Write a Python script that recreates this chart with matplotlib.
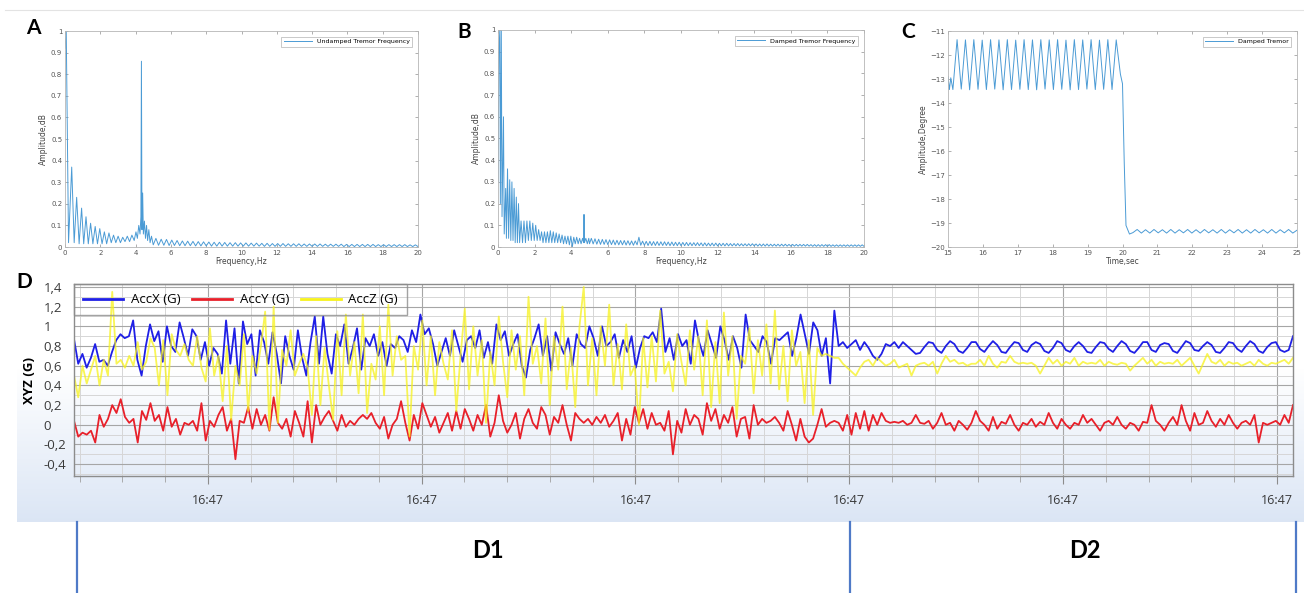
import numpy as np
import matplotlib
matplotlib.use('Agg')
import matplotlib.pyplot as plt
from matplotlib.lines import Line2D
from matplotlib.ticker import MultipleLocator, FormatStrFormatter

W, H = 1304, 593

# ---------------- panel A : undamped tremor spectrum ----------------
A_low_f = [0.0, 0.07, 0.2, 0.38, 0.52, 0.66, 0.8, 0.94, 1.06, 1.19, 1.32, 1.45, 1.58, 1.71,
           1.84, 1.97, 2.1, 2.23, 2.36, 2.49, 2.62, 2.75, 2.88, 3.01, 3.14, 3.27, 3.4, 3.53,
           3.66, 3.79, 3.92, 4.02, 4.1, 4.18, 4.25, 4.3, 4.33, 4.36, 4.4, 4.44, 4.5, 4.56,
           4.62, 4.68, 4.75, 4.82, 4.9]
A_low_amp = [0.92, 1.0, 0.02, 0.37, 0.02, 0.23, 0.015, 0.18, 0.015, 0.14, 0.015, 0.11, 0.015, 0.095,
             0.015, 0.085, 0.015, 0.07, 0.015, 0.065, 0.02, 0.055, 0.02, 0.05, 0.02, 0.045, 0.025, 0.05,
             0.025, 0.055, 0.03, 0.07, 0.04, 0.1, 0.06, 0.14, 0.86, 0.08, 0.25, 0.06, 0.12, 0.04,
             0.1, 0.03, 0.08, 0.02, 0.05]
A_tail_peaks = [0.04, 0.036, 0.035, 0.032, 0.03, 0.028, 0.027, 0.026, 0.025, 0.024,
                0.023, 0.022, 0.022, 0.021, 0.02, 0.02, 0.019, 0.019, 0.018, 0.018,
                0.017, 0.017, 0.016, 0.016, 0.016, 0.015, 0.015, 0.015, 0.014, 0.014,
                0.014, 0.014, 0.013, 0.013, 0.013, 0.013, 0.012, 0.012, 0.012, 0.012,
                0.012, 0.012, 0.011, 0.011, 0.011, 0.011, 0.011, 0.011, 0.01, 0.01]
A_tail_troughs = [0.01, 0.008, 0.008, 0.007, 0.007, 0.006, 0.006, 0.006, 0.005, 0.005, 0.005,
                  0.004, 0.004, 0.004, 0.004, 0.004, 0.004, 0.004, 0.004, 0.004, 0.004,
                  0.003, 0.003, 0.003, 0.003, 0.003, 0.003, 0.003, 0.003, 0.003, 0.003,
                  0.003, 0.003, 0.003, 0.003, 0.003,
                  0.002, 0.002, 0.002, 0.002, 0.002, 0.002, 0.002, 0.002, 0.002, 0.002,
                  0.002, 0.002, 0.002, 0.002, 0.002]

# ---------------- panel B : damped tremor spectrum ----------------
B_low_f = [0.0, 0.05, 0.1, 0.13, 0.18, 0.22, 0.3, 0.34, 0.42, 0.46, 0.52, 0.58, 0.64, 0.7,
           0.76, 0.82, 0.88, 0.94, 1.0, 1.06, 1.12, 1.18, 1.26, 1.34, 1.42, 1.5, 1.58, 1.66,
           1.74, 1.82, 1.9, 1.98, 2.06, 2.14, 2.22, 2.3, 2.38, 2.46, 2.54, 2.62, 2.7, 2.78,
           2.86, 2.94, 3.02, 3.1, 3.18, 3.26, 3.34, 3.42, 3.5, 3.58, 3.66, 3.74, 3.82, 3.9,
           3.98, 4.06, 4.14, 4.22, 4.3, 4.38, 4.46, 4.54, 4.62, 4.68, 4.7, 4.72, 4.8, 4.88, 4.96]
B_low_amp = [0.3, 0.9, 1.0, 0.2, 1.0, 0.14, 0.6, 0.06, 0.27, 0.04, 0.36, 0.04, 0.31, 0.03,
             0.3, 0.03, 0.27, 0.02, 0.23, 0.02, 0.2, 0.02, 0.12, 0.02, 0.12, 0.02, 0.12, 0.03,
             0.12, 0.03, 0.11, 0.03, 0.1, 0.03, 0.08, 0.03, 0.07, 0.02, 0.07, 0.02, 0.07, 0.02,
             0.075, 0.02, 0.07, 0.02, 0.065, 0.02, 0.06, 0.02, 0.055, 0.015, 0.05, 0.015, 0.05, 0.01,
             0.05, 0.0, 0.045, 0.015, 0.045, 0.015, 0.04, 0.015, 0.04, 0.02, 0.15, 0.02, 0.04, 0.015, 0.04]
B_tail_peaks = [0.04, 0.038, 0.036, 0.035, 0.034, 0.033, 0.032, 0.031, 0.03, 0.03, 0.029, 0.028, 0.028, 0.045, 0.027,
                0.026, 0.026, 0.025, 0.025, 0.024, 0.024, 0.023, 0.023, 0.022, 0.022, 0.021, 0.021, 0.02, 0.02, 0.02,
                0.019, 0.019, 0.018, 0.018, 0.018, 0.017, 0.017, 0.017, 0.016, 0.016, 0.016, 0.015, 0.015, 0.015, 0.015,
                0.014, 0.014, 0.014, 0.014, 0.013, 0.013, 0.013, 0.013, 0.013, 0.012, 0.012, 0.012, 0.012, 0.012, 0.012,
                0.011, 0.011, 0.011, 0.011, 0.011, 0.011, 0.01, 0.01, 0.01, 0.01, 0.01, 0.01, 0.01, 0.01, 0.01]
B_tail_troughs = [0.015, 0.014, 0.013, 0.012, 0.012, 0.011, 0.011, 0.01, 0.01, 0.01, 0.009, 0.009, 0.008, 0.01, 0.008, 0.008,
                  0.007, 0.007, 0.007, 0.007, 0.007, 0.007, 0.006, 0.006, 0.006, 0.006, 0.006, 0.006, 0.006, 0.006, 0.006,
                  0.005, 0.005, 0.005, 0.005, 0.005, 0.005, 0.005, 0.005, 0.005, 0.005, 0.005, 0.005, 0.005, 0.005, 0.005,
                  0.004, 0.004, 0.004, 0.004, 0.004, 0.004, 0.004, 0.004, 0.004, 0.004, 0.004, 0.004, 0.004, 0.004, 0.004,
                  0.003, 0.003, 0.003, 0.003, 0.003, 0.003, 0.003, 0.003, 0.003, 0.003, 0.003, 0.003, 0.003, 0.003, 0.003]

# ---------------- panel C : damped tremor in time ----------------
C_start_t = [15.0, 15.04, 15.08]
C_start_v = [-12.9, -13.44, -12.95]
C_osc_v = [-13.44, -11.36, -13.42, -11.37, -13.45, -11.36, -13.43, -11.38, -13.44, -11.36,
           -13.42, -11.37, -13.45, -11.36, -13.44, -11.38, -13.43, -11.36, -13.44, -11.37,
           -13.45, -11.36, -13.42, -11.37, -13.44, -11.36, -13.43, -11.38, -13.45, -11.36,
           -13.44, -11.37, -13.42, -11.36, -13.44, -11.38, -13.43, -11.36, -13.44, -11.37,
           -12.8]
C_drop_t = [20.0, 20.05, 20.1, 20.2, 20.3]
C_drop_v = [-13.2, -16.5, -19.1, -19.46, -19.4]
C_ripple_v = [-19.27, -19.42, -19.28, -19.42, -19.27, -19.41, -19.28, -19.42, -19.27, -19.42,
              -19.28, -19.41, -19.27, -19.42, -19.28, -19.42, -19.27, -19.41, -19.28, -19.42,
              -19.27, -19.42, -19.28, -19.41, -19.27, -19.42, -19.28, -19.42, -19.27, -19.41,
              -19.28, -19.42, -19.27, -19.42, -19.28, -19.41, -19.27, -19.42, -19.3]

# ---------------- panel D : accelerometer, D1 = tremor, D2 = damped ----------------
accx_d1 = [0.87, 0.62, 0.72, 0.58, 0.68, 0.82, 0.64, 0.66, 0.6, 0.74,
           0.86, 0.92, 0.88, 0.9, 1.06, 0.66, 0.5, 0.8, 1.02, 0.85,
           0.95, 0.64, 1.0, 0.8, 0.74, 1.04, 0.88, 0.7, 0.97, 0.9,
           0.66, 0.84, 0.6, 0.78, 0.72, 0.52, 1.06, 0.62, 0.98, 0.42,
           1.05, 0.82, 0.92, 0.5, 0.96, 0.84, 0.62, 0.94, 0.72, 0.42,
           0.9, 0.7, 0.56, 0.96, 0.68, 0.5, 0.84, 1.1, 0.62, 1.1,
           0.72, 0.52, 0.92, 0.8, 1.02, 0.62, 0.78, 0.98, 0.56, 0.88,
           0.8, 0.92, 0.7, 0.84, 0.6, 0.82, 0.78, 0.9, 0.86, 0.74,
           0.96, 0.84, 1.12, 0.92, 0.98, 0.82, 0.6, 0.74, 0.88, 0.7,
           0.96, 0.8, 0.64, 0.86, 0.9, 0.78, 0.96, 0.68, 0.84, 0.62,
           1.02, 0.86, 0.95, 0.7, 0.82, 0.92, 0.6, 0.48, 0.76, 0.88,
           1.02, 0.7, 0.9, 0.55, 0.94, 0.82, 0.72, 0.88, 0.6, 0.92,
           0.82, 0.78, 1.0, 0.88, 0.7, 1.0, 0.8, 0.84, 0.92, 0.68,
           0.86, 0.74, 0.9, 0.58, 0.78, 0.9, 0.88, 0.94, 0.84, 1.18,
           0.74, 0.88, 0.66, 0.92, 0.8, 0.86, 0.62, 1.06, 0.84, 0.7,
           0.96, 0.82, 0.68, 1.0, 0.86, 0.66, 0.9, 0.78, 0.58, 1.12,
           0.86, 0.8, 0.74, 0.9, 0.84, 0.62, 0.88, 0.86, 0.9, 0.94,
           0.7, 0.88, 1.12, 0.92, 0.72, 1.04, 0.96, 0.7, 0.88, 0.42,
           1.16]
accx_d2 = [0.8, 0.84, 0.78, 0.82, 0.86, 0.76, 0.84, 0.78, 0.7, 0.66,
           0.72, 0.82, 0.8, 0.84, 0.78, 0.84, 0.8, 0.76, 0.72,
           0.73, 0.79, 0.84, 0.83, 0.76, 0.73, 0.8, 0.85, 0.82, 0.75,
           0.73, 0.78, 0.84, 0.84, 0.77, 0.74, 0.8, 0.85, 0.81, 0.74,
           0.73, 0.79, 0.84, 0.83, 0.76, 0.74, 0.81, 0.84, 0.82, 0.75,
           0.73, 0.78, 0.85, 0.83, 0.76, 0.74, 0.8, 0.84, 0.8, 0.74,
           0.73, 0.79, 0.84, 0.83, 0.77, 0.74, 0.8, 0.85, 0.82, 0.75,
           0.73, 0.78, 0.84, 0.84, 0.76, 0.74, 0.81, 0.83, 0.82, 0.75,
           0.73, 0.79, 0.85, 0.83, 0.76, 0.75, 0.8, 0.84, 0.81, 0.74,
           0.73, 0.78, 0.84, 0.83, 0.77, 0.74, 0.8, 0.85, 0.82, 0.75,
           0.73, 0.79, 0.83, 0.84, 0.76, 0.74, 0.76, 0.9]
accy_d1 = [0.04, -0.12, -0.08, -0.1, -0.06, -0.18, 0.1, -0.02, 0.06, 0.2,
           0.12, 0.26, 0.08, 0.02, 0.06, -0.18, 0.14, 0.05, 0.22, 0.04,
           0.1, -0.06, 0.18, -0.02, 0.06, -0.1, 0.02, 0.0, 0.04, -0.06,
           0.22, -0.16, 0.04, -0.02, 0.1, 0.18, -0.06, 0.06, -0.35, 0.04,
           0.02, 0.18, -0.04, 0.16, 0.0, 0.1, -0.06, 0.28, 0.02, -0.04,
           0.06, -0.12, 0.14, 0.02, -0.12, 0.24, -0.18, 0.2, 0.0, 0.08,
           0.14, 0.04, -0.06, 0.1, -0.02, 0.04, 0.0, 0.06, 0.1, 0.06,
           0.12, 0.02, -0.04, 0.08, -0.14, 0.0, 0.06, 0.24, 0.02, -0.16,
           0.1, -0.04, 0.22, 0.1, -0.02, 0.08, -0.08, 0.02, 0.12, -0.06,
           0.14, -0.04, 0.16, 0.06, -0.06, 0.1, 0.0, 0.2, -0.12, 0.02,
           0.3, 0.04, -0.08, 0.0, 0.12, -0.14, 0.06, 0.16, 0.02, -0.04,
           0.18, 0.1, -0.1, 0.08, 0.02, 0.2, 0.0, -0.16, 0.12, 0.06,
           0.02, 0.06, 0.0, 0.08, 0.02, 0.1, -0.02, 0.04, 0.12, -0.16,
           0.06, -0.1, 0.18, 0.02, 0.16, -0.04, 0.12, 0.0, 0.02, -0.06,
           0.14, -0.3, 0.04, -0.08, 0.16, 0.0, 0.1, 0.06, -0.1, 0.22,
           0.04, 0.16, -0.04, 0.1, 0.02, 0.18, -0.12, 0.06, 0.08, -0.14,
           0.2, 0.0, 0.06, 0.02, 0.04, 0.08, 0.02, -0.06, 0.14, 0.0,
           -0.16, 0.06, -0.12, -0.18, -0.14, 0.0, 0.16, -0.02, 0.02, 0.04]
accy_d2 = [0.02, -0.06, 0.1, -0.1, 0.12, -0.04, 0.14, -0.06, 0.1, 0.0,
           0.12, 0.04, 0.02, 0.03, 0.02, 0.04, 0.0, 0.02, 0.1,
           0.02, 0.01, 0.04, -0.04, 0.02, 0.12, 0.0, 0.02, -0.06, 0.04,
           0.0, -0.05, 0.02, 0.14, 0.04, 0.0, -0.06, 0.08, -0.04, 0.03,
           0.01, 0.1, 0.0, -0.06, 0.02, 0.0, 0.06, -0.02, 0.03, 0.0,
           0.12, 0.02, -0.04, 0.06, 0.0, -0.04, 0.02, 0.0, 0.1, 0.02,
           0.06, 0.0, -0.06, 0.02, 0.04, 0.0, 0.08, 0.0, -0.04, 0.02,
           0.0, -0.06, 0.03, 0.02, 0.2, 0.04, 0.0, -0.06, 0.02, 0.08,
           0.0, 0.2, 0.04, -0.06, 0.12, 0.0, 0.02, 0.14, 0.04, -0.02,
           0.06, 0.0, 0.1, 0.02, -0.04, 0.02, 0.04, 0.0, 0.1, -0.18,
           0.02, 0.0, 0.02, 0.04, 0.0, 0.1, 0.02, 0.2]
accz_d1 = [0.5, 0.28, 0.6, 0.42, 0.56, 0.7, 0.4, 0.66, 0.5, 1.35,
           0.62, 0.66, 0.58, 0.7, 0.6, 0.84, 0.56, 0.64, 0.88, 0.78,
           0.4, 0.86, 0.3, 0.92, 0.76, 0.7, 0.82, 0.66, 0.6, 0.9,
           0.58, 0.44, 0.98, 0.5, 0.7, 0.24, 0.8, 0.05, 0.6, 0.4,
           0.92, 0.14, 0.7, 0.52, 0.8, 1.15, -0.05, 1.2, 0.02, 0.76,
           0.6, 0.96, 0.5, 0.62, 0.72, 0.58, 0.1, 0.9, 0.2, 0.78,
           0.4, 0.05, 0.95, 0.3, 1.12, 0.5, 0.84, 0.32, 1.12, 0.12,
           0.62, 0.46, 1.0, 0.3, 1.22, 0.5, 0.9, 0.66, 0.7, -0.12,
           0.8, 0.56, 1.06, 0.4, 0.9, 0.3, 0.84, 0.62, 0.46, 0.96,
           0.14, 0.7, 1.18, 0.36, 1.0, 0.5, 0.86, 0.02, 0.74, 0.4,
           1.1, 0.64, 0.28, 0.96, 0.56, 0.9, 0.3, 1.3, 0.62, 0.8,
           0.42, 1.08, 0.2, 0.9, 0.56, 1.2, 0.36, 0.78, 0.18, 1.0,
           1.4, 0.4, 0.88, 0.3, 1.0, 0.6, 1.22, 0.4, 0.82, 0.36,
           1.02, 0.5, 0.6, 0.0, 0.88, 0.38, 0.9, 0.44, 1.16, 0.52,
           0.64, 0.34, 0.92, 0.64, 0.4, 0.96, 0.56, 0.9, 0.3, 1.06,
           0.18, 0.84, 0.22, 1.14, 0.5, 0.9, 0.06, 0.7, 0.62, 0.98,
           0.32, 0.86, 0.5, 1.02, 0.42, 1.16, 0.36, 0.8, 0.24, 0.96,
           0.6, 0.74, 0.22, 0.86, 0.1, 0.78, 0.7, 0.72, 0.7, 0.68]
accz_d2 = [0.68, 0.62, 0.58, 0.54, 0.5, 0.58, 0.64, 0.66, 0.6, 0.68,
           0.64, 0.6, 0.62, 0.66, 0.58, 0.6, 0.62, 0.5, 0.6,
           0.62, 0.63, 0.6, 0.64, 0.52, 0.62, 0.7, 0.64, 0.66, 0.62,
           0.63, 0.6, 0.62, 0.62, 0.66, 0.6, 0.7, 0.62, 0.58, 0.64,
           0.63, 0.7, 0.64, 0.62, 0.63, 0.62, 0.63, 0.6, 0.52, 0.6,
           0.68, 0.62, 0.66, 0.6, 0.64, 0.62, 0.68, 0.6, 0.64, 0.62,
           0.63, 0.62, 0.66, 0.6, 0.64, 0.62, 0.61, 0.63, 0.62, 0.55,
           0.6, 0.64, 0.68, 0.62, 0.66, 0.6, 0.64, 0.62, 0.63, 0.62,
           0.66, 0.6, 0.64, 0.68, 0.6, 0.52, 0.62, 0.72, 0.64, 0.62,
           0.66, 0.6, 0.64, 0.62, 0.63, 0.6, 0.62, 0.64, 0.6, 0.66,
           0.62, 0.6, 0.63, 0.62, 0.64, 0.66, 0.62, 0.68]
d_ticklabels = ['-0,4', '-0,2', '0', '0,2', '0,4', '0,6', '0,8', '1', '1,2', '1,4']
d_xlabels = ['16:47'] * 6


def px_box(x0, y0, x1, y1):
    return [x0 / W, 1 - y1 / H, (x1 - x0) / W, (y1 - y0) / H]


def zigzag(start, stop, troughs, peaks):
    vals = np.empty(len(troughs) + len(peaks))
    vals[0::2] = troughs
    vals[1::2] = peaks
    return np.linspace(start, stop, len(vals)), vals


fig = plt.figure(figsize=(W / 100, H / 100), dpi=100)
fig.add_artist(Line2D([0.004, 1], [1 - 10 / H] * 2, color='#e3e3e3', lw=0.8))

line_c = '#4b9bd5'


def matlab_axes(rect):
    ax = fig.add_axes(rect)
    for s in ax.spines.values():
        s.set_color('#b5b5b5')
        s.set_linewidth(0.6)
    ax.tick_params(direction='in', top=True, right=True, length=2, width=0.5,
                   color='#909090', labelsize=5, labelcolor='#555555', pad=2)
    return ax


def small_legend(ax):
    leg = ax.legend(loc='upper right', fontsize=4.5, fancybox=False, edgecolor='#a0a0a0',
                    handlelength=4.5, borderaxespad=0.9, borderpad=0.4)
    leg.get_frame().set_linewidth(0.5)


# A
axA = matlab_axes(px_box(65, 31, 418, 247))
tf, ta = zigzag(5.0, 20.0, A_tail_troughs, A_tail_peaks)
axA.plot(np.concatenate([A_low_f, tf]), np.concatenate([A_low_amp, ta]),
         color=line_c, lw=0.7, label='Undamped Tremor Frequency')
axA.set_xlim(0, 20)
axA.set_ylim(0, 1)
axA.xaxis.set_major_locator(MultipleLocator(2))
axA.yaxis.set_major_locator(MultipleLocator(0.1))
axA.yaxis.set_major_formatter(FormatStrFormatter('%g'))
axA.set_xlabel('Frequency,Hz', fontsize=5.5, labelpad=1, color='#444444')
axA.set_ylabel('Amplitude,dB', fontsize=5.5, labelpad=2, color='#444444')
small_legend(axA)

# B
axB = matlab_axes(px_box(498, 30, 864, 247))
tf, ta = zigzag(5.0, 20.0, B_tail_troughs, B_tail_peaks)
axB.plot(np.concatenate([B_low_f, tf]), np.concatenate([B_low_amp, ta]),
         color=line_c, lw=0.7, label='Damped Tremor Frequency')
axB.set_xlim(0, 20)
axB.set_ylim(0, 1)
axB.xaxis.set_major_locator(MultipleLocator(2))
axB.yaxis.set_major_locator(MultipleLocator(0.1))
axB.yaxis.set_major_formatter(FormatStrFormatter('%g'))
axB.set_xlabel('Frequency,Hz', fontsize=5.5, labelpad=1, color='#444444')
axB.set_ylabel('Amplitude,dB', fontsize=5.5, labelpad=2, color='#444444')
small_legend(axB)

# C
axC = matlab_axes(px_box(948, 31, 1297, 247))
ct = np.concatenate([C_start_t, np.linspace(15.14, 19.94, len(C_osc_v)), C_drop_t,
                     np.linspace(20.42, 25.0, len(C_ripple_v))])
cv = np.concatenate([C_start_v, C_osc_v, C_drop_v, C_ripple_v])
axC.plot(ct, cv, color=line_c, lw=0.7, label='Damped Tremor')
axC.set_xlim(15, 25)
axC.set_ylim(-20, -11)
axC.xaxis.set_major_locator(MultipleLocator(1))
axC.yaxis.set_major_locator(MultipleLocator(1))
axC.set_xlabel('Time,sec', fontsize=5.5, labelpad=1, color='#444444')
axC.set_ylabel('Amplitude,Degree', fontsize=5.5, labelpad=2, color='#444444')
small_legend(axC)

# D background gradient
bg = fig.add_axes(px_box(17, 266, 1304, 522), zorder=-5)
fr = np.linspace(0, 1, 256)
t = np.clip((fr - 0.4) / 0.6, 0, 1)[:, None, None]
top = np.array([1.0, 1.0, 1.0])
bot = np.array([0.86, 0.90, 0.96])
bg.imshow(top * (1 - t) + bot * t, aspect='auto', extent=[0, 1, 0, 1])
bg.axis('off')

axD = fig.add_axes(px_box(74, 284, 1293, 476))
axD.set_facecolor('none')
x1 = -0.626
x_split = 2.93
x2 = 5.075


def seg_x(a, b):
    return np.concatenate([np.linspace(x1, x_split, len(a)), np.linspace(x_split + 0.02, x2, len(b))])


axD.plot(seg_x(accx_d1, accx_d2), accx_d1 + accx_d2, color='#1f1fe6', lw=1.3, label='AccX (G)')
axD.plot(seg_x(accy_d1, accy_d2), accy_d1 + accy_d2, color='#e8202a', lw=1.3, label='AccY (G)')
axD.plot(seg_x(accz_d1, accz_d2), accz_d1 + accz_d2, color='#f7f21c', lw=1.3, alpha=0.75, label='AccZ (G)')

axD.set_xlim(x1, x2)
axD.set_ylim(-0.52, 1.43)
axD.set_yticks(np.arange(-0.4, 1.41, 0.2))
axD.set_yticklabels(d_ticklabels, ha='left')
axD.yaxis.set_minor_locator(MultipleLocator(0.1))
axD.set_xticks(np.arange(0, 6))
axD.set_xticklabels(d_xlabels)
axD.set_xticks(np.arange(-0.6, 5.05, 0.2), minor=True)
axD.grid(which='major', color='#a6a6a6', lw=0.8)
axD.grid(which='minor', color='#d6d6d6', lw=0.7)
axD.set_axisbelow(True)
for s in axD.spines.values():
    s.set_color('#8c8c8c')
    s.set_linewidth(1.0)
axD.tick_params(axis='y', which='both', length=0, pad=22, labelsize=9.5, labelcolor='#3a3a3a')
axD.tick_params(axis='x', which='major', direction='out', length=6, width=0.8, color='#8c8c8c',
                labelsize=9, labelcolor='#3a3a3a', pad=7)
axD.tick_params(axis='x', which='minor', direction='out', length=4, width=0.6, color='#a0a0a0')
for lab in axD.get_xticklabels() + axD.get_yticklabels():
    lab.set_family('Open Sans')
axD.set_ylabel('XYZ (G)', fontsize=9.5, fontweight='bold', family='Open Sans')
axD.yaxis.set_label_coords(-0.031, 0.5)
leg = axD.legend(loc='upper left', bbox_to_anchor=(0, 1), borderaxespad=0, ncol=3,
                 fancybox=False, edgecolor='#8c8c8c', facecolor='none',
                 prop={'family': 'Open Sans', 'size': 9.5},
                 handlelength=3.0, handletextpad=0.6, columnspacing=0.9, borderpad=0.7)
for h in leg.get_lines():
    h.set_linewidth(2)
    h.set_alpha(1)

# panel letters
for letter, (lx, ly) in {'A': (33, 28), 'B': (464, 32), 'C': (908, 32), 'D': (24, 282)}.items():
    fig.text(lx / W, 1 - ly / H, letter, ha='center', va='center', fontsize=15,
             fontweight='bold', family='Lato')

# D1 / D2 brackets
for bx in (77, 850, 1296):
    fig.add_artist(Line2D([bx / W] * 2, [1 - 522 / H, 0], color='#4f7ac7', lw=1.6))
fig.text(488 / W, 1 - 550 / H, 'D1', ha='center', va='center', fontsize=17, fontweight='bold', family='Lato')
fig.text(1085 / W, 1 - 550 / H, 'D2', ha='center', va='center', fontsize=17, fontweight='bold', family='Lato')

fig.savefig('out.png', dpi=100)
